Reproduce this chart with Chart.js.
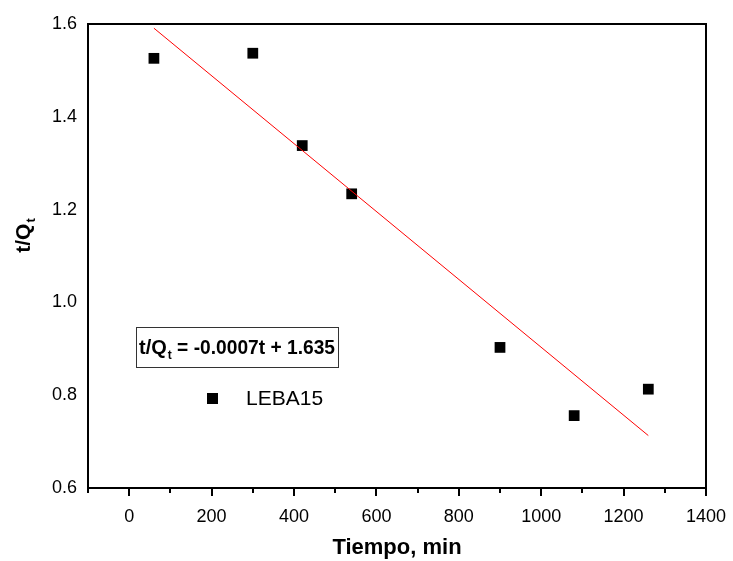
<!DOCTYPE html>
<html><head><meta charset="utf-8">
<script src="https://cdn.jsdelivr.net/npm/chart.js@4/dist/chart.umd.min.js"></script>
<style>html,body{margin:0;padding:0;background:#fff;} canvas{display:block;}</style>
</head><body>
<canvas id="c" width="733" height="561"></canvas>
<script>
// ---- data ----
const timeMin = [60, 300, 420, 540, 900, 1080, 1260];
const tOverQ = [1.526, 1.537, 1.338, 1.234, 0.903, 0.756, 0.813];
const fitTime = [60, 1260];
const fitValue = [1.591, 0.713];
const xTickValues = [0, 200, 400, 600, 800, 1000, 1200, 1400];
const xMinorTickValues = [-100, 100, 300, 500, 700, 900, 1100, 1300];
const yTickValues = [0.6, 0.8, 1.0, 1.2, 1.4, 1.6];
const seriesName = 'LEBA15';
const equationParts = ['t/Q', 't', ' = -0.0007t + 1.635'];
const xTitle = 'Tiempo, min';
const yTitleParts = ['t/Q', 't'];

const FONT = "'Liberation Sans', Arial, sans-serif";

const decor = {
  id: 'decor',
  afterDraw(chart) {
    const {ctx, chartArea: a, scales: {x}} = chart;
    ctx.save();
    // frame
    ctx.strokeStyle = '#000';
    ctx.lineWidth = 2;
    ctx.strokeRect(a.left, a.top, a.right - a.left, a.bottom - a.top);
    // minor ticks
    ctx.beginPath();
    xMinorTickValues.forEach(v => {
      const px = Math.round(x.getPixelForValue(v));
      ctx.moveTo(px, a.bottom);
      ctx.lineTo(px, a.bottom + 5);
    });
    ctx.stroke();
    ctx.restore();

    // y title (rotated, with subscript)
    ctx.save();
    ctx.fillStyle = '#000';
    ctx.translate(22, 236);
    ctx.rotate(-Math.PI / 2);
    ctx.textBaseline = 'alphabetic';
    ctx.textAlign = 'left';
    ctx.font = 'bold 21px ' + FONT;
    const w1 = ctx.measureText(yTitleParts[0]).width;
    ctx.font = 'bold 13px ' + FONT;
    const w2 = ctx.measureText(yTitleParts[1]).width;
    const sx = -(w1 + w2) / 2;
    ctx.font = 'bold 21px ' + FONT;
    ctx.fillText(yTitleParts[0], sx, 8);
    ctx.font = 'bold 13px ' + FONT;
    ctx.fillText(yTitleParts[1], sx + w1 + 1, 13);
    ctx.restore();

    // equation box
    ctx.save();
    const bx = 136, by = 327, bw = 202, bh = 40;
    ctx.fillStyle = '#fff';
    ctx.fillRect(bx, by, bw, bh);
    ctx.strokeStyle = '#333';
    ctx.lineWidth = 1;
    ctx.strokeRect(bx + 0.5, by + 0.5, bw, bh);
    ctx.fillStyle = '#000';
    ctx.textBaseline = 'alphabetic';
    ctx.textAlign = 'left';
    let tx = bx + 3;
    const base = by + 27;
    ctx.font = 'bold 20px ' + FONT;
    ctx.fillText(equationParts[0], tx, base);
    tx += ctx.measureText(equationParts[0]).width;
    ctx.font = 'bold 12px ' + FONT;
    ctx.fillText(equationParts[1], tx + 1, base + 5);
    tx += ctx.measureText(equationParts[1]).width + 1;
    ctx.font = 'bold 20px ' + FONT;
    const rest = equationParts[2];
    const avail = bx + bw - 3 - tx;
    const wr = ctx.measureText(rest).width;
    if (wr > avail) {
      ctx.save();
      ctx.translate(tx, base);
      ctx.scale(avail / wr, 1);
      ctx.fillText(rest, 0, 0);
      ctx.restore();
    } else {
      ctx.fillText(rest, tx, base);
    }
    ctx.restore();

    // legend
    ctx.save();
    ctx.fillStyle = '#000';
    ctx.fillRect(207, 393, 11, 11);
    ctx.font = '21px ' + FONT;
    ctx.textBaseline = 'middle';
    ctx.fillText(seriesName, 246, 399);
    ctx.restore();
  }
};

new Chart(document.getElementById('c').getContext('2d'), {
  type: 'scatter',
  data: {
    datasets: [
      {
        type: 'line',
        label: 'fit',
        data: fitTime.map((t, i) => ({x: t, y: fitValue[i]})),
        borderColor: '#ff0000',
        borderWidth: 1,
        pointRadius: 0,
        fill: false,
        tension: 0,
        order: 0
      },
      {
        label: seriesName,
        data: timeMin.map((t, i) => ({x: t, y: tOverQ[i]})),
        pointStyle: 'rect',
        pointRadius: 7.6,
        backgroundColor: '#000',
        borderColor: '#000',
        borderWidth: 0,
        order: 1
      }
    ]
  },
  options: {
    responsive: false,
    animation: false,
    devicePixelRatio: 1,
    layout: {padding: {top: 24, right: 27, left: 0, bottom: 0}},
    plugins: {legend: {display: false}, tooltip: {enabled: false}},
    scales: {
      x: {
        type: 'linear',
        min: -100,
        max: 1400,
        afterBuildTicks: s => { s.ticks = xTickValues.map(v => ({value: v})); },
        afterFit: s => { s.height = 73; s.paddingRight = 0; },
        grid: {display: true, drawOnChartArea: false, drawTicks: true, tickLength: 8, color: '#000', lineWidth: 2},
        border: {display: true, color: '#000', width: 2},
        ticks: {color: '#000', font: {family: FONT, size: 18}, padding: 10, maxRotation: 0, autoSkip: false,
                callback: v => String(v)},
        title: {display: true, text: xTitle, color: '#000', font: {family: FONT, size: 22, weight: 'bold'}, padding: {top: 0, bottom: 0}}
      },
      y: {
        min: 0.6,
        max: 1.6,
        afterBuildTicks: s => { s.ticks = yTickValues.map(v => ({value: v})); },
        afterFit: s => { s.width = 88; },
        grid: {display: false, drawTicks: false},
        border: {display: true, color: '#000', width: 2},
        ticks: {color: '#000', font: {family: FONT, size: 18}, padding: 11, callback: v => Number(v).toFixed(1)}
      }
    }
  },
  plugins: [decor]
});
</script>
</body></html>
